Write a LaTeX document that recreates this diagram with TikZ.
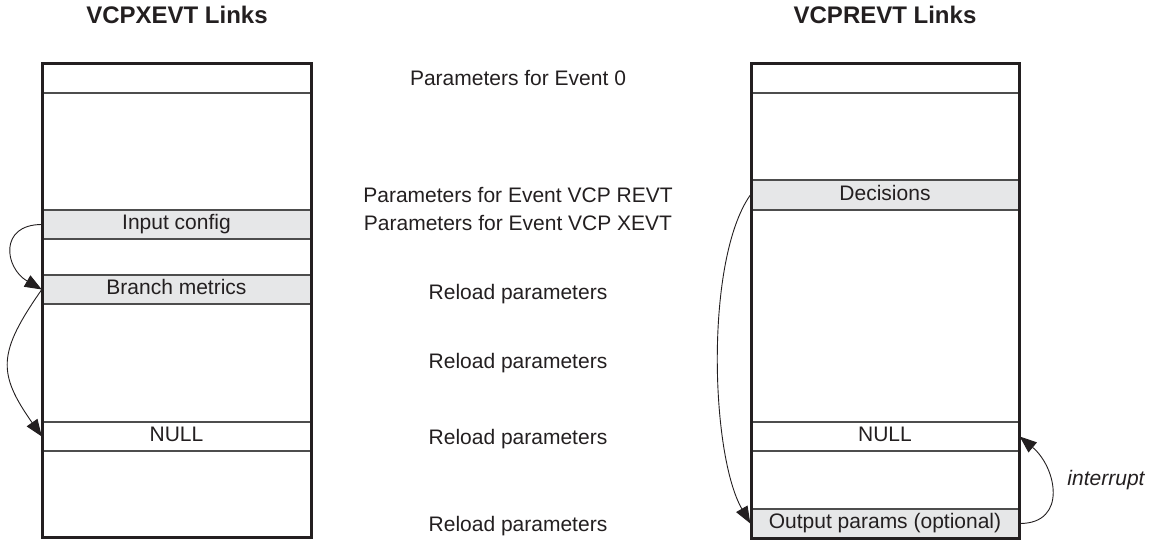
\documentclass[tikz,border=0pt]{standalone}
\usepackage{fontspec}
\setmainfont{Liberation Sans}
\usepackage{tikz}
\usetikzlibrary{arrows.meta}
\definecolor{ink}{HTML}{231F20}
\definecolor{rule}{HTML}{4D4D4D}
\definecolor{shade}{HTML}{E6E7E8}
\tikzstyle{link} = [ink, line width=0.9pt, -{Triangle[length=17pt,width=13pt]}]
\tikzstyle{slot} = [draw=rule, line width=1.4pt, minimum width=268pt, inner sep=0pt, text=ink, font=\fontsize{21}{25}\selectfont, text height=15pt, text depth=4.5pt]
\tikzstyle{frame} = [draw=ink, line width=3pt, inner sep=0pt, minimum width=269pt]
\tikzstyle{label} = [text=ink, inner sep=0pt, font=\fontsize{21}{25}\selectfont, text height=15pt, text depth=4.5pt]

\begin{document}
\begin{tikzpicture}[x=1pt, y=1pt]
          \useasboundingbox (0,0) rectangle (1150,-539);

          % Titles
          \node[label, font=\fontsize{24}{28}\selectfont\bfseries] (tx) at (177,-18) {VCPXEVT Links};
          \node[label, font=\fontsize{24}{28}\selectfont\bfseries] (tr) at (885,-18) {VCPREVT Links};

          % Left table
          \node[slot, minimum height=30pt] (x0) at (176.5,-78) {};
          \node[slot, fill=shade, minimum height=29pt] (xin) at (176.5,-224.5) {Input config};
          \node[slot, fill=shade, minimum height=29pt] (xbm) at (176.5,-289.5) {Branch metrics};
          \node[slot, minimum height=29pt] (xnull) at (176.5,-436.5) {NULL};
          \node[frame, minimum height=474pt] (xbox) at (176.5,-300) {};

          % Right table
          \node[slot, minimum height=30pt] (r0) at (885,-78) {};
          \node[slot, fill=shade, minimum height=30pt] (rdec) at (885,-195) {Decisions};
          \node[slot, minimum height=29pt] (rnull) at (885,-436.5) {NULL};
          \node[slot, fill=shade, minimum height=29pt] (rout) at (885,-523.5) {Output params (optional)};
          \node[frame, minimum width=268pt, minimum height=475pt] (rbox) at (885,-300.5) {};

          % Middle labels
          \node[label] (p0) at (518,-80) {Parameters for Event 0};
          \node[label] (prevt) at (518,-197) {Parameters for Event VCP REVT};
          \node[label] (pxevt) at (518,-225) {Parameters for Event VCP XEVT};
          \node[label] (rl1) at (518,-294) {Reload parameters};
          \node[label] (rl2) at (518,-363) {Reload parameters};
          \node[label] (rl3) at (518,-439) {Reload parameters};
          \node[label] (rl4) at (518,-526) {Reload parameters};

          % Edges
          \draw[link] (xin.west) to[out=180, in=150, looseness=1.7] (xbm.west);
          \draw[link] (xbm.west) to[out=235, in=125, looseness=1.35] (xnull.west);
          \draw[link] (rdec.west) to[out=235, in=120, looseness=0.62] (rout.west);
          \draw[link] (rout.east) to[out=0, in=-40, looseness=1.42] (rnull.east);
          \node[label, font=\fontsize{21}{25}\selectfont\itshape] (irq) at (1106,-480) {interrupt};

        \end{tikzpicture}
\end{document}
